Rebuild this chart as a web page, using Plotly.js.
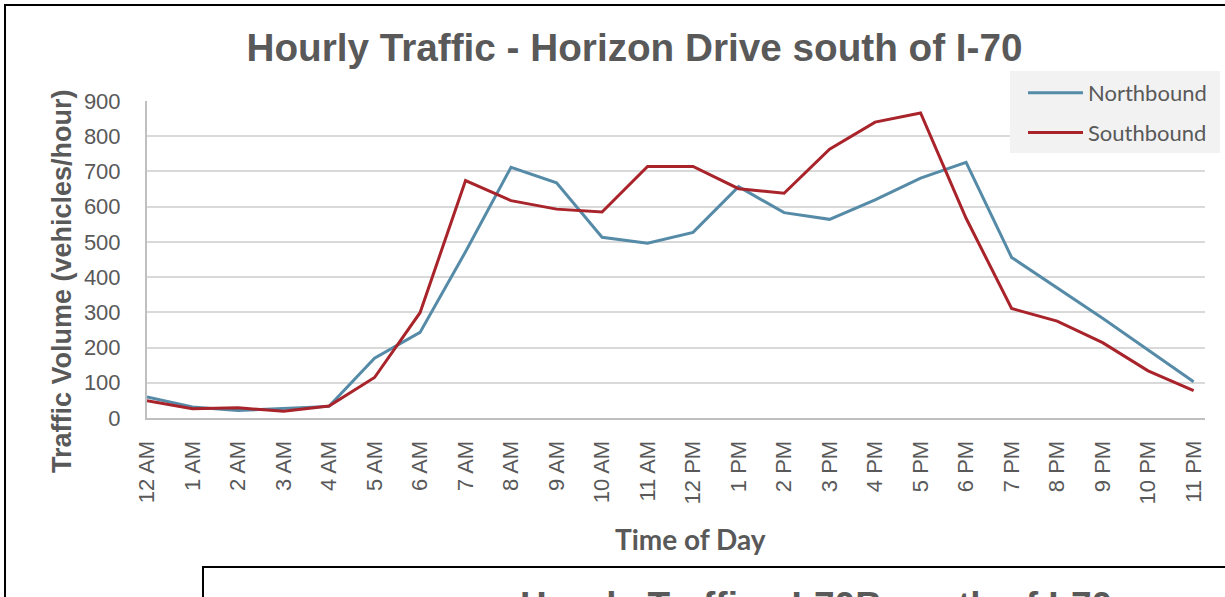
<!DOCTYPE html>
<html>
<head>
<meta charset="utf-8">
<script src="https://cdn.plot.ly/plotly-3.0.1.min.js"></script>
<style>
  html, body { margin: 0; padding: 0; background: #ffffff; }
  #chart { width: 1225px; height: 597px; }
</style>
</head>
<body>
<div id="chart"></div>
<script>
// ---- Data ----
const hours = ["12 AM","1 AM","2 AM","3 AM","4 AM","5 AM","6 AM","7 AM","8 AM","9 AM","10 AM","11 AM",
               "12 PM","1 PM","2 PM","3 PM","4 PM","5 PM","6 PM","7 PM","8 PM","9 PM","10 PM","11 PM"];
const northbound = [60, 31, 21, 26, 33, 170, 243, 472, 712, 668, 513, 496,
                    527, 657, 583, 564, 619, 681, 726, 456, 370, 283, 193, 103];
const southbound = [49, 26, 29, 19, 34, 115, 299, 674, 617, 593, 585, 714,
                    714, 651, 638, 763, 840, 866, 567, 311, 275, 214, 134, 78];
const yTicks = [0, 100, 200, 300, 400, 500, 600, 700, 800, 900];

// ---- Geometry helpers (pixel -> paper) ----
const W = 1225, H = 597;
const L = 147, R = 1205, T = 101, B = 418;
const px = x => (x - L) / (R - L);
const py = y => (B - y) / (B - T);

const grey = '#595959';
const arial = 'Liberation Sans, Arial, sans-serif';
const calib = 'Lato, Carlito, Calibri, sans-serif';

const traces = [
  { x: hours, y: northbound, name: 'Northbound', type: 'scatter', mode: 'lines',
    line: { color: '#568BA8', width: 3 }, legendgroup: 'n' },
  { x: hours, y: southbound, name: 'Southbound', type: 'scatter', mode: 'lines',
    line: { color: '#A8232A', width: 3 }, legendgroup: 's' }
];

const layout = {
  width: W, height: H,
  paper_bgcolor: '#ffffff', plot_bgcolor: '#ffffff',
  margin: { l: L, r: W - R, t: T, b: H - B, pad: 0, autoexpand: false },
  title: {
    text: '<b>Hourly Traffic - Horizon Drive south of I-70</b>',
    font: { family: arial, size: 38.7, color: grey },
    xref: 'container', yref: 'container',
    x: 634.5 / W, xanchor: 'center',
    y: 1 - 47 / H, yanchor: 'middle'
  },
  xaxis: {
    type: 'category', categoryorder: 'array', categoryarray: hours,
    range: [0, 23.25],
    showgrid: false, zeroline: false,
    showline: true, linecolor: '#bfbfbf', linewidth: 2,
    ticks: '', tickangle: -90, ticklabelstandoff: 12,
    tickfont: { family: arial, size: 22, color: grey },
    fixedrange: true
  },
  yaxis: {
    range: [0, 900], tickvals: yTicks, ticktext: yTicks.map(String),
    showgrid: true, gridcolor: '#d9d9d9', gridwidth: 2,
    zeroline: false,
    showline: true, linecolor: '#bfbfbf', linewidth: 2,
    ticks: '', ticklabelstandoff: 20,
    tickfont: { family: arial, size: 22, color: grey },
    fixedrange: true
  },
  showlegend: true,
  legend: {
    xref: 'paper', yref: 'paper',
    x: px(1023), xanchor: 'left',
    y: py(72), yanchor: 'top',
    bgcolor: 'rgba(0,0,0,0)', borderwidth: 0,
    font: { family: calib, size: 22, color: grey },
    itemwidth: 55, traceorder: 'grouped', tracegroupgap: 8,
    orientation: 'v'
  },
  annotations: [
    { text: '<b>Traffic Volume (vehicles/hour)</b>', textangle: -90,
      xref: 'paper', yref: 'paper', x: px(62), y: py(281),
      xanchor: 'center', yanchor: 'middle', showarrow: false,
      font: { family: arial, size: 27, color: grey } },
    { text: '<b>Time of Day</b>',
      xref: 'paper', yref: 'paper', x: px(690), y: py(539),
      xanchor: 'center', yanchor: 'middle', showarrow: false,
      font: { family: calib, size: 28, color: grey } },
    { text: '<b>Hourly Traffic - I-70B south of I-70</b>',
      xref: 'paper', yref: 'paper', x: px(816), y: py(583),
      xanchor: 'center', yanchor: 'top', showarrow: false,
      font: { family: arial, size: 37, color: grey } }
  ],
  shapes: [
    { type: 'rect', xref: 'paper', yref: 'paper', layer: 'above',
      x0: px(1010), x1: px(1220), y0: py(153), y1: py(71),
      fillcolor: '#f2f2f2', line: { width: 0 } },
    { type: 'path', xref: 'paper', yref: 'paper',
      path: `M${px(5)},${py(620)} L${px(5)},${py(5)} L${px(1240)},${py(5)}`,
      line: { color: '#000000', width: 2 } },
    { type: 'path', xref: 'paper', yref: 'paper',
      path: `M${px(203)},${py(620)} L${px(203)},${py(567)} L${px(1240)},${py(567)}`,
      line: { color: '#000000', width: 2 } }
  ]
};

Plotly.newPlot('chart', traces, layout, { displayModeBar: false, staticPlot: true });
</script>
</body>
</html>
